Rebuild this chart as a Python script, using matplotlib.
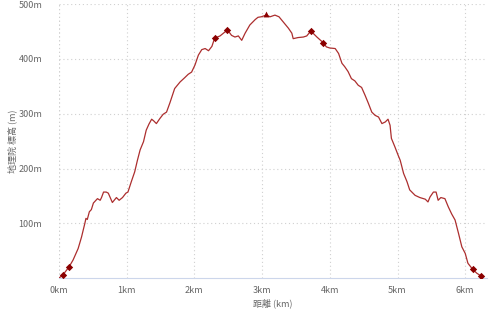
import matplotlib
matplotlib.use('Agg')
import matplotlib.pyplot as plt

plt.rcParams['font.family'] = ['Noto Sans CJK JP', 'DejaVu Sans']

# elevation profile (km, m)
dist_km = [0.0, 0.055, 0.148, 0.21, 0.285, 0.335, 0.384, 0.40, 0.42, 0.45, 0.48, 0.51, 0.54,
           0.57, 0.61, 0.63, 0.66, 0.70, 0.73, 0.79, 0.83, 0.85, 0.89, 0.94, 0.99, 1.02,
           1.07, 1.12, 1.16, 1.20, 1.25, 1.29, 1.33, 1.37, 1.40, 1.44, 1.49, 1.54, 1.59,
           1.64, 1.71, 1.79, 1.86, 1.91, 1.96, 2.01, 2.06, 2.11, 2.16, 2.21, 2.26, 2.30,
           2.38, 2.43, 2.49, 2.55, 2.60, 2.65, 2.70, 2.75, 2.82, 2.90, 2.94, 2.99, 3.06,
           3.12, 3.19, 3.25, 3.31, 3.39, 3.44, 3.46, 3.53, 3.61, 3.66, 3.72, 3.81, 3.90,
           3.95, 4.00, 4.08, 4.13, 4.18, 4.22, 4.27, 4.32, 4.37, 4.42, 4.47, 4.52, 4.57,
           4.62, 4.67, 4.72, 4.77, 4.82, 4.86, 4.89, 4.91, 4.96, 5.01, 5.04, 5.09, 5.14,
           5.18, 5.26, 5.33, 5.41, 5.45, 5.48, 5.53, 5.57, 5.60, 5.64, 5.70, 5.75, 5.80,
           5.85, 5.90, 5.95, 6.00, 6.04, 6.11, 6.17, 6.23]
elev_m = [0, 5, 20, 33, 54, 75, 100, 109, 107, 121, 125, 137, 141,
          145, 142, 147, 157, 157, 155, 138, 144, 147, 142, 147, 155, 157,
          176, 194, 215, 234, 249, 270, 281, 290, 287, 282, 291, 299, 303,
          320, 346, 358, 366, 372, 376, 389, 407, 417, 419, 415, 423, 438,
          442, 447, 453, 443, 440, 442, 434, 447, 462, 472, 476, 477, 480,
          477, 480, 477, 468, 456, 447, 437, 439, 440, 442, 451, 440, 430,
          422, 420, 419, 410, 392, 386, 377, 364, 360, 352, 348, 334, 319,
          303, 297, 294, 282, 285, 290, 279, 255, 240, 224, 215, 191, 176,
          161, 151, 147, 144, 139, 148, 157, 157, 142, 147, 145, 130, 117,
          106, 82, 57, 45, 27, 16, 9, 4]

# waypoint markers
wp_km = [0.055, 0.148, 2.30, 2.49, 3.72, 3.90, 6.11, 6.23]
wp_m = [5, 20, 438, 453, 451, 430, 16, 4]
summit_km = [3.06]
summit_m = [482]

fig = plt.figure(figsize=(5.03, 3.20), dpi=100)
ax = fig.add_axes([0.117, 0.131, 0.851, 0.856])

ax.plot(dist_km, elev_m, color='#ac2e2e', lw=0.9, zorder=3)
ax.scatter(wp_km, wp_m, marker='D', s=14, color='#8b0000', zorder=4, lw=0)
ax.scatter(summit_km, summit_m, marker='^', s=18, color='#8b0000', zorder=4, lw=0)

ax.set_xlim(0, 6.32)
ax.set_ylim(0, 500)
ax.set_xticks(range(7))
ax.set_xticklabels([f'{i}km' for i in range(7)])
ax.set_yticks([100, 200, 300, 400, 500])
ax.set_yticklabels([f'{v}m' for v in [100, 200, 300, 400, 500]])

ax.grid(True, color='#d0d0d0', ls=(0, (1, 2.5)), lw=0.8)
ax.axvline(0, color='#d0d0d0', ls=(0, (1, 2.5)), lw=0.8)
for s in ['top', 'right', 'left']:
    ax.spines[s].set_visible(False)
ax.spines['bottom'].set_color('#ccd6eb')
ax.tick_params(length=0, labelsize=6.5, colors='#666666')
ax.tick_params(axis='y', pad=12)
ax.tick_params(axis='x', pad=6)

ax.set_xlabel('距離 (km)', fontsize=6.5, color='#666666', labelpad=2)
ax.set_ylabel('地理院 標高 (m)', fontsize=6.5, color='#666666', labelpad=1)

fig.savefig('out.png', dpi=100)
